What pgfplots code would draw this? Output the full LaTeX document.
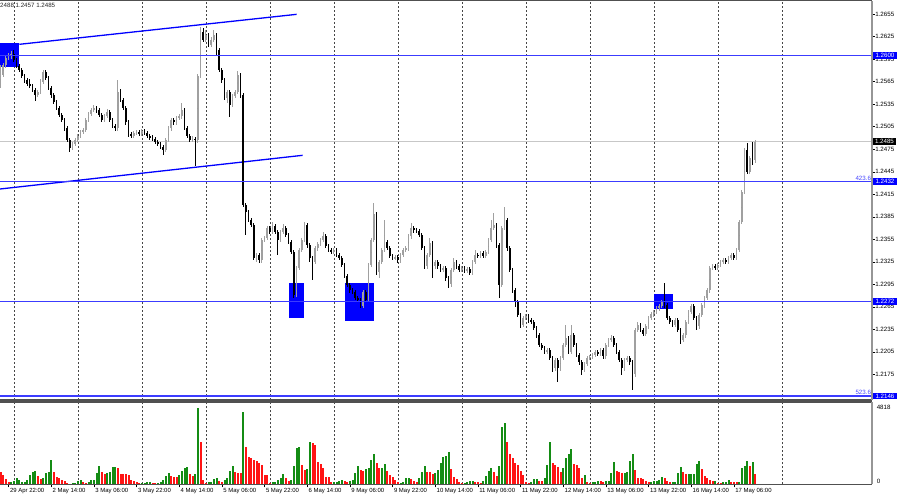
\documentclass[border=0pt]{standalone}
\usepackage{pgfplots}
\pgfplotsset{compat=1.18}
\usepackage{pgfplotstable}
\usepackage{fontspec}
\setmainfont{Liberation Sans}

\definecolor{levelblue}{RGB}{60,60,255}
\definecolor{tagblue}{RGB}{72,72,255}
\definecolor{trendblue}{RGB}{0,0,255}
\definecolor{boxblue}{RGB}{0,0,255}
\definecolor{candleup}{RGB}{160,160,160}
\definecolor{gridgray}{RGB}{70,70,70}
\definecolor{volgreen}{RGB}{20,140,20}
\definecolor{volred}{RGB}{255,20,20}
\definecolor{framegray}{RGB}{80,80,80}
\definecolor{axisgray}{RGB}{150,150,150}

% hourly candles, i = bar number
\pgfplotstableread{
i o h l c
0 1.2561 1.2587 1.2557 1.2574
1 1.2574 1.2590 1.2571 1.2587
2 1.2587 1.2600 1.2584 1.2597
3 1.2597 1.2603 1.2594 1.2599
4 1.2599 1.2606 1.2596 1.2602
5 1.2602 1.2607 1.2591 1.2594
6 1.2594 1.2597 1.2583 1.2586
7 1.2586 1.2589 1.2578 1.2581
8 1.2581 1.2584 1.2570 1.2573
9 1.2573 1.2576 1.2564 1.2567
10 1.2567 1.2570 1.2559 1.2562
11 1.2562 1.2568 1.2556 1.2559
12 1.2559 1.2562 1.2551 1.2554
13 1.2554 1.2557 1.2540 1.2547
14 1.2547 1.2554 1.2544 1.2551
15 1.2551 1.2568 1.2548 1.2565
16 1.2565 1.2581 1.2562 1.2578
17 1.2578 1.2581 1.2567 1.2570
18 1.2570 1.2573 1.2554 1.2557
19 1.2557 1.2560 1.2544 1.2547
20 1.2547 1.2550 1.2535 1.2538
21 1.2538 1.2541 1.2527 1.2530
22 1.2530 1.2533 1.2518 1.2521
23 1.2521 1.2524 1.2511 1.2514
24 1.2514 1.2517 1.2500 1.2503
25 1.2503 1.2506 1.2484 1.2487
26 1.2487 1.2490 1.2471 1.2477
27 1.2477 1.2485 1.2474 1.2482
28 1.2482 1.2490 1.2479 1.2487
29 1.2487 1.2496 1.2484 1.2493
30 1.2493 1.2501 1.2490 1.2498
31 1.2498 1.2504 1.2495 1.2501
32 1.2501 1.2517 1.2498 1.2514
33 1.2514 1.2525 1.2511 1.2522
34 1.2522 1.2530 1.2519 1.2527
35 1.2527 1.2534 1.2524 1.2530
36 1.2530 1.2533 1.2524 1.2527
37 1.2527 1.2530 1.2518 1.2521
38 1.2521 1.2524 1.2511 1.2514
39 1.2514 1.2522 1.2511 1.2519
40 1.2519 1.2528 1.2516 1.2525
41 1.2525 1.2528 1.2511 1.2514
42 1.2514 1.2517 1.2503 1.2506
43 1.2506 1.2509 1.2500 1.2503
44 1.2503 1.2567 1.2500 1.2551
45 1.2551 1.2555 1.2538 1.2541
46 1.2541 1.2544 1.2527 1.2530
47 1.2530 1.2533 1.2508 1.2511
48 1.2511 1.2514 1.2492 1.2495
49 1.2495 1.2498 1.2490 1.2493
50 1.2493 1.2500 1.2490 1.2497
51 1.2497 1.2501 1.2494 1.2498
52 1.2498 1.2501 1.2492 1.2495
53 1.2495 1.2502 1.2492 1.2499
54 1.2499 1.2502 1.2494 1.2497
55 1.2497 1.2500 1.2490 1.2493
56 1.2493 1.2496 1.2488 1.2491
57 1.2491 1.2494 1.2486 1.2489
58 1.2489 1.2492 1.2482 1.2485
59 1.2485 1.2488 1.2479 1.2482
60 1.2482 1.2485 1.2475 1.2478
61 1.2478 1.2481 1.2467 1.2474
62 1.2474 1.2490 1.2471 1.2487
63 1.2487 1.2506 1.2484 1.2503
64 1.2503 1.2517 1.2500 1.2514
65 1.2514 1.2517 1.2508 1.2511
66 1.2511 1.2520 1.2508 1.2517
67 1.2517 1.2522 1.2514 1.2519
68 1.2519 1.2537 1.2516 1.2527
69 1.2527 1.2530 1.2500 1.2503
70 1.2503 1.2506 1.2490 1.2493
71 1.2493 1.2496 1.2484 1.2487
72 1.2487 1.2492 1.2484 1.2489
73 1.2489 1.2492 1.2453 1.2487
74 1.2487 1.2576 1.2484 1.2573
75 1.2573 1.2638 1.2570 1.2631
76 1.2631 1.2637 1.2618 1.2621
77 1.2621 1.2634 1.2618 1.2627
78 1.2627 1.2630 1.2611 1.2614
79 1.2614 1.2624 1.2611 1.2621
80 1.2621 1.2634 1.2618 1.2627
81 1.2627 1.2630 1.2601 1.2607
82 1.2607 1.2610 1.2578 1.2581
83 1.2581 1.2584 1.2564 1.2567
84 1.2567 1.2570 1.2540 1.2543
85 1.2543 1.2554 1.2537 1.2551
86 1.2551 1.2554 1.2518 1.2534
87 1.2534 1.2549 1.2531 1.2546
88 1.2546 1.2554 1.2543 1.2551
89 1.2551 1.2579 1.2548 1.2574
90 1.2574 1.2577 1.2544 1.2547
91 1.2547 1.2550 1.2398 1.2401
92 1.2401 1.2404 1.2361 1.2391
93 1.2391 1.2394 1.2378 1.2381
94 1.2381 1.2384 1.2371 1.2374
95 1.2374 1.2377 1.2327 1.2330
96 1.2330 1.2337 1.2325 1.2334
97 1.2334 1.2337 1.2324 1.2327
98 1.2327 1.2357 1.2324 1.2354
99 1.2354 1.2360 1.2351 1.2357
100 1.2357 1.2373 1.2354 1.2370
101 1.2370 1.2373 1.2362 1.2365
102 1.2365 1.2378 1.2362 1.2373
103 1.2373 1.2376 1.2362 1.2365
104 1.2365 1.2368 1.2334 1.2354
105 1.2354 1.2368 1.2351 1.2365
106 1.2365 1.2375 1.2362 1.2370
107 1.2370 1.2373 1.2358 1.2361
108 1.2361 1.2364 1.2348 1.2351
109 1.2351 1.2354 1.2335 1.2338
110 1.2338 1.2341 1.2277 1.2281
111 1.2281 1.2320 1.2278 1.2317
112 1.2317 1.2344 1.2314 1.2341
113 1.2341 1.2357 1.2338 1.2354
114 1.2354 1.2378 1.2351 1.2374
115 1.2374 1.2377 1.2344 1.2347
116 1.2347 1.2350 1.2325 1.2330
117 1.2330 1.2333 1.2301 1.2325
118 1.2325 1.2346 1.2322 1.2343
119 1.2343 1.2352 1.2340 1.2349
120 1.2349 1.2357 1.2346 1.2354
121 1.2354 1.2365 1.2351 1.2359
122 1.2359 1.2362 1.2343 1.2346
123 1.2346 1.2349 1.2338 1.2341
124 1.2341 1.2344 1.2335 1.2338
125 1.2338 1.2344 1.2335 1.2341
126 1.2341 1.2344 1.2331 1.2334
127 1.2334 1.2337 1.2327 1.2330
128 1.2330 1.2333 1.2318 1.2321
129 1.2321 1.2324 1.2303 1.2306
130 1.2306 1.2309 1.2291 1.2294
131 1.2294 1.2297 1.2284 1.2287
132 1.2287 1.2290 1.2282 1.2285
133 1.2285 1.2288 1.2274 1.2277
134 1.2277 1.2280 1.2271 1.2274
135 1.2274 1.2277 1.2263 1.2266
136 1.2266 1.2288 1.2263 1.2285
137 1.2285 1.2288 1.2271 1.2274
138 1.2274 1.2324 1.2271 1.2321
139 1.2321 1.2357 1.2318 1.2354
140 1.2354 1.2403 1.2351 1.2389
141 1.2389 1.2392 1.2308 1.2311
142 1.2311 1.2328 1.2303 1.2325
143 1.2325 1.2344 1.2322 1.2341
144 1.2341 1.2381 1.2338 1.2351
145 1.2351 1.2354 1.2340 1.2343
146 1.2343 1.2346 1.2330 1.2333
147 1.2333 1.2336 1.2327 1.2330
148 1.2330 1.2334 1.2327 1.2331
149 1.2331 1.2334 1.2324 1.2327
150 1.2327 1.2337 1.2324 1.2334
151 1.2334 1.2344 1.2331 1.2341
152 1.2341 1.2346 1.2338 1.2343
153 1.2343 1.2362 1.2340 1.2359
154 1.2359 1.2377 1.2356 1.2370
155 1.2370 1.2373 1.2364 1.2367
156 1.2367 1.2370 1.2363 1.2366
157 1.2366 1.2369 1.2358 1.2361
158 1.2361 1.2364 1.2340 1.2343
159 1.2343 1.2346 1.2316 1.2319
160 1.2319 1.2337 1.2316 1.2334
161 1.2334 1.2357 1.2331 1.2350
162 1.2350 1.2353 1.2303 1.2319
163 1.2319 1.2328 1.2316 1.2325
164 1.2325 1.2328 1.2316 1.2319
165 1.2319 1.2322 1.2311 1.2314
166 1.2314 1.2320 1.2311 1.2317
167 1.2317 1.2320 1.2300 1.2303
168 1.2303 1.2306 1.2290 1.2295
169 1.2295 1.2317 1.2292 1.2314
170 1.2314 1.2330 1.2311 1.2325
171 1.2325 1.2328 1.2316 1.2319
172 1.2319 1.2322 1.2311 1.2314
173 1.2314 1.2320 1.2311 1.2317
174 1.2317 1.2320 1.2310 1.2313
175 1.2313 1.2318 1.2310 1.2315
176 1.2315 1.2318 1.2307 1.2310
177 1.2310 1.2328 1.2307 1.2325
178 1.2325 1.2341 1.2322 1.2334
179 1.2334 1.2337 1.2330 1.2333
180 1.2333 1.2340 1.2330 1.2337
181 1.2337 1.2340 1.2330 1.2333
182 1.2333 1.2341 1.2330 1.2338
183 1.2338 1.2357 1.2335 1.2354
184 1.2354 1.2381 1.2351 1.2370
185 1.2370 1.2390 1.2367 1.2374
186 1.2374 1.2377 1.2344 1.2347
187 1.2347 1.2350 1.2277 1.2294
188 1.2294 1.2373 1.2291 1.2370
189 1.2370 1.2398 1.2367 1.2381
190 1.2381 1.2384 1.2340 1.2343
191 1.2343 1.2346 1.2311 1.2314
192 1.2314 1.2317 1.2284 1.2287
193 1.2287 1.2290 1.2265 1.2271
194 1.2271 1.2274 1.2251 1.2254
195 1.2254 1.2257 1.2237 1.2241
196 1.2241 1.2253 1.2238 1.2250
197 1.2250 1.2256 1.2247 1.2253
198 1.2253 1.2256 1.2244 1.2247
199 1.2247 1.2250 1.2242 1.2245
200 1.2245 1.2248 1.2234 1.2237
201 1.2237 1.2240 1.2224 1.2227
202 1.2227 1.2230 1.2211 1.2214
203 1.2214 1.2217 1.2207 1.2210
204 1.2210 1.2213 1.2202 1.2205
205 1.2205 1.2210 1.2202 1.2207
206 1.2207 1.2210 1.2194 1.2197
207 1.2197 1.2200 1.2178 1.2183
208 1.2183 1.2197 1.2180 1.2194
209 1.2194 1.2197 1.2165 1.2183
210 1.2183 1.2200 1.2180 1.2197
211 1.2197 1.2217 1.2194 1.2214
212 1.2214 1.2241 1.2211 1.2223
213 1.2223 1.2226 1.2202 1.2205
214 1.2205 1.2241 1.2202 1.2227
215 1.2227 1.2230 1.2211 1.2214
216 1.2214 1.2217 1.2198 1.2201
217 1.2201 1.2204 1.2188 1.2191
218 1.2191 1.2194 1.2174 1.2181
219 1.2181 1.2192 1.2178 1.2189
220 1.2189 1.2200 1.2186 1.2197
221 1.2197 1.2201 1.2194 1.2198
222 1.2198 1.2204 1.2195 1.2201
223 1.2201 1.2208 1.2198 1.2205
224 1.2205 1.2208 1.2199 1.2202
225 1.2202 1.2210 1.2199 1.2207
226 1.2207 1.2210 1.2196 1.2199
227 1.2199 1.2217 1.2196 1.2214
228 1.2214 1.2224 1.2211 1.2221
229 1.2221 1.2227 1.2218 1.2223
230 1.2223 1.2226 1.2211 1.2214
231 1.2214 1.2217 1.2202 1.2205
232 1.2205 1.2208 1.2191 1.2194
233 1.2194 1.2197 1.2174 1.2183
234 1.2183 1.2197 1.2180 1.2194
235 1.2194 1.2200 1.2191 1.2197
236 1.2197 1.2200 1.2188 1.2191
237 1.2191 1.2194 1.2154 1.2175
238 1.2175 1.2237 1.2172 1.2234
239 1.2234 1.2245 1.2231 1.2241
240 1.2241 1.2244 1.2231 1.2234
241 1.2234 1.2237 1.2226 1.2229
242 1.2229 1.2242 1.2226 1.2239
243 1.2239 1.2253 1.2236 1.2250
244 1.2250 1.2258 1.2247 1.2255
245 1.2255 1.2261 1.2252 1.2258
246 1.2258 1.2266 1.2255 1.2263
247 1.2263 1.2269 1.2260 1.2266
248 1.2266 1.2274 1.2263 1.2271
249 1.2271 1.2297 1.2264 1.2267
250 1.2267 1.2270 1.2247 1.2250
251 1.2250 1.2253 1.2242 1.2245
252 1.2245 1.2248 1.2238 1.2241
253 1.2241 1.2250 1.2238 1.2247
254 1.2247 1.2250 1.2231 1.2234
255 1.2234 1.2237 1.2215 1.2221
256 1.2221 1.2230 1.2218 1.2227
257 1.2227 1.2248 1.2224 1.2245
258 1.2245 1.2261 1.2242 1.2258
259 1.2258 1.2269 1.2255 1.2266
260 1.2266 1.2269 1.2247 1.2250
261 1.2250 1.2253 1.2234 1.2239
262 1.2239 1.2257 1.2236 1.2254
263 1.2254 1.2270 1.2251 1.2267
264 1.2267 1.2280 1.2264 1.2277
265 1.2277 1.2290 1.2274 1.2287
266 1.2287 1.2319 1.2284 1.2317
267 1.2317 1.2322 1.2314 1.2319
268 1.2319 1.2322 1.2314 1.2317
269 1.2317 1.2324 1.2314 1.2321
270 1.2321 1.2328 1.2318 1.2325
271 1.2325 1.2330 1.2322 1.2327
272 1.2327 1.2330 1.2322 1.2325
273 1.2325 1.2333 1.2322 1.2330
274 1.2330 1.2337 1.2327 1.2334
275 1.2334 1.2337 1.2327 1.2330
276 1.2330 1.2344 1.2327 1.2341
277 1.2341 1.2381 1.2338 1.2378
278 1.2378 1.2421 1.2375 1.2418
279 1.2418 1.2477 1.2415 1.2474
280 1.2474 1.2483 1.2442 1.2445
281 1.2445 1.2466 1.2442 1.2463
282 1.2463 1.2485 1.2454 1.2461
283 1.2461 1.2488 1.2457 1.2485
}\candles

% tick volume, s = 1 green (up), 0 red (down)
\pgfplotstableread{
i v s
0 756 0
1 588 0
2 336 0
3 126 0
4 126 1
5 210 1
6 420 1
7 273 1
8 168 1
9 168 1
10 273 1
11 588 1
12 798 1
13 840 1
14 546 0
15 336 0
16 420 1
17 693 1
18 798 1
19 1512 1
20 798 0
21 483 0
22 420 0
23 273 0
24 210 0
25 63 0
26 42 0
27 63 1
28 63 1
29 210 1
30 273 1
31 126 0
32 63 0
33 126 1
34 252 1
35 273 1
36 693 1
37 1176 1
38 756 0
39 672 0
40 693 1
41 798 1
42 1092 1
43 1092 1
44 1008 0
45 672 0
46 630 0
47 630 0
48 588 0
49 273 0
50 210 0
51 126 0
52 63 0
53 63 1
54 105 1
55 126 1
56 147 1
57 105 0
58 63 0
59 63 1
60 126 1
61 273 1
62 546 1
63 693 1
64 504 0
65 483 0
66 483 0
67 588 1
68 840 1
69 1050 1
70 1092 1
71 651 0
72 546 0
73 672 1
74 4818 1
75 2646 0
76 273 0
77 63 0
78 126 1
79 126 1
80 336 1
81 378 1
82 210 0
83 126 0
84 273 1
85 420 1
86 840 1
87 1176 1
88 756 0
89 693 0
90 735 0
91 4536 1
92 2352 0
93 1743 0
94 1638 0
95 1512 0
96 1470 0
97 1323 0
98 1218 0
99 588 0
100 588 0
101 63 0
102 126 1
103 126 1
104 273 1
105 420 1
106 630 1
107 378 0
108 210 0
109 252 1
110 1176 1
111 2310 1
112 2330 1
113 1218 0
114 903 0
115 945 1
116 2688 1
117 2583 0
118 2478 0
119 1386 0
120 1302 0
121 1008 0
122 483 0
123 462 0
124 126 0
125 147 1
126 168 1
127 210 1
128 273 1
129 210 0
130 126 0
131 231 1
132 273 1
133 693 1
134 1176 1
135 903 0
136 840 0
137 966 1
138 1008 1
139 1512 1
140 1890 1
141 1323 0
142 1008 0
143 1050 1
144 1260 1
145 840 0
146 588 0
147 483 0
148 273 0
149 126 0
150 84 1
151 126 1
152 378 1
153 400 1
154 336 0
155 210 0
156 126 0
157 378 1
158 756 1
159 1176 1
160 798 0
161 756 0
162 651 0
163 693 1
164 903 1
165 1323 1
166 1743 1
167 1785 1
168 2016 1
169 966 0
170 483 0
171 336 0
172 126 0
173 63 0
174 84 1
175 126 1
176 210 1
177 231 1
178 168 0
179 126 0
180 63 0
181 210 1
182 525 1
183 840 1
184 1008 1
185 798 0
186 546 0
187 1176 1
188 3591 1
189 3885 1
190 2688 0
191 1890 0
192 1638 0
193 1323 0
194 1218 0
195 840 0
196 588 0
197 126 0
198 105 0
199 126 1
200 336 1
201 315 1
202 210 0
203 200 0
204 378 1
205 1218 1
206 2646 1
207 1323 0
208 1218 0
209 1113 0
210 798 0
211 1050 1
212 1638 1
213 1932 1
214 2205 1
215 1260 0
216 1218 0
217 1008 0
218 420 0
219 588 1
220 126 0
221 63 0
222 126 1
223 168 1
224 231 1
225 210 0
226 168 0
227 189 1
228 200 1
229 735 1
230 1386 1
231 840 0
232 756 0
233 693 0
234 714 1
235 756 1
236 1470 1
237 1890 1
238 903 0
239 420 0
240 378 0
241 336 0
242 210 0
243 126 0
244 147 1
245 210 1
246 220 1
247 273 1
248 483 1
249 378 0
250 210 0
251 126 0
252 147 1
253 168 1
254 693 1
255 1092 1
256 756 0
257 630 0
258 650 1
259 660 1
260 670 1
261 1260 1
262 1470 1
263 966 0
264 525 0
265 378 0
266 273 0
267 210 0
268 220 1
269 63 0
270 55 0
271 126 1
272 130 1
273 273 1
274 168 0
275 160 0
276 126 0
277 130 1
278 1008 1
279 1176 1
280 1470 1
281 1176 0
282 1428 1
283 672 0
}\volume

\newcommand{\lab}{\fontsize{6.2}{7}\selectfont}
\pgfplotsset{
  candle/.style={only marks, mark=*, mark size=0pt,
    mark options={draw=none, fill=none},
    error bars/y dir=both, error bars/y explicit, error bars/error mark=none},
  hlevel/.style={draw=levelblue, line width=1.2bp, mark=none},
}

\begin{document}
\begin{tikzpicture}
\path[use as bounding box] (0,0) rectangle (900bp,499bp);

% ---- price panel
\begin{axis}[
  name=main,
  at={(0bp,99bp)}, anchor=south west, scale only axis,
  width=872bp, height=399bp,
  xmin=-0.1875, xmax=326.8, ymin=1.214067, ymax=1.267267,
  axis line style={draw=none},
  xtick={5.17,29.17,53.17,77.17,101.17,125.17,149.17,173.17,197.17,221.17,245.17,269.17,293.17},
  xticklabels={}, xmajorgrids, xtick style={draw=none},
  grid style={gridgray, dash pattern=on 2bp off 2bp, line width=0.6bp},
  ytick={1.2145,1.2175,1.2205,1.2235,1.2265,1.2295,1.2325,1.2355,1.2385,1.2415,1.2445,1.2475,1.2505,1.2535,1.2565,1.2595,1.2625,1.2655},
  yticklabels={1.2145,1.2175,1.2205,1.2235,1.2265,1.2295,1.2325,1.2355,1.2385,1.2415,1.2445,1.2475,1.2505,1.2535,1.2565,1.2595,1.2625,1.2655},
  ytick pos=right, yticklabel pos=right, tick align=outside,
  major tick length=2.5bp,
  ytick style={black, line width=0.5bp},
  yticklabel style={font=\lab, inner sep=0.6bp},
  clip=true,
]
% zones
\addplot[fill=boxblue, draw=none] coordinates {(-0.1875,1.25851) (7.05,1.25851) (7.05,1.26171) (-0.1875,1.26171)} -- cycle;
\addplot[fill=boxblue, draw=none] coordinates {(108.2,1.2250) (113.8,1.2250) (113.8,1.22967) (108.2,1.22967)} -- cycle;
\addplot[fill=boxblue, draw=none] coordinates {(129.2,1.2246) (140.0,1.2246) (140.0,1.22963) (129.2,1.22963)} -- cycle;
\addplot[fill=boxblue, draw=none] coordinates {(245.2,1.22616) (252.0,1.22616) (252.0,1.22816) (245.2,1.22816)} -- cycle;
% current price line
\addplot[draw=black!22, line width=0.8bp] coordinates {(-0.1875,1.2485) (326.8,1.2485)};
% channel
\addplot[draw=trendblue, line width=1.3bp] coordinates {(7.05,1.26149) (111.06,1.26549)};
\addplot[draw=trendblue, line width=1.3bp] coordinates {(-0.1875,1.2422) (113.3,1.24669)};
% candles: wicks then bodies
\addplot[candle, restrict expr to domain={\thisrow{c}-\thisrow{o}}{0:1},
  error bars/error bar style={line width=0.8bp, candleup}]
  table[x=i, y expr={(\thisrow{h}+\thisrow{l})/2}, y error expr={(\thisrow{h}-\thisrow{l})/2}] {\candles};
\addplot[candle, restrict expr to domain={\thisrow{c}-\thisrow{o}}{-1:-0.00001},
  error bars/error bar style={line width=0.8bp, black}]
  table[x=i, y expr={(\thisrow{h}+\thisrow{l})/2}, y error expr={(\thisrow{h}-\thisrow{l})/2}] {\candles};
\addplot[candle, restrict expr to domain={\thisrow{c}-\thisrow{o}}{0:1},
  error bars/error bar style={line width=1.9bp, candleup}]
  table[x=i, y expr={(\thisrow{o}+\thisrow{c})/2}, y error expr={max(abs(\thisrow{c}-\thisrow{o})/2,0.00005)}] {\candles};
\addplot[candle, restrict expr to domain={\thisrow{c}-\thisrow{o}}{-1:-0.00001},
  error bars/error bar style={line width=1.9bp, black}]
  table[x=i, y expr={(\thisrow{o}+\thisrow{c})/2}, y error expr={max(abs(\thisrow{c}-\thisrow{o})/2,0.00005)}] {\candles};
% horizontal levels
\addplot[hlevel] coordinates {(-0.1875,1.2600) (326.8,1.2600)};
\addplot[hlevel] coordinates {(-0.1875,1.2432) (326.8,1.2432)};
\addplot[hlevel] coordinates {(-0.1875,1.2272) (326.8,1.2272)};
\addplot[hlevel] coordinates {(-0.1875,1.2146) (326.8,1.2146)};

\coordinate (r2600) at (axis cs:326.8,1.2600);
\coordinate (r2485) at (axis cs:326.8,1.2485);
\coordinate (r2432) at (axis cs:326.8,1.2432);
\coordinate (r2272) at (axis cs:326.8,1.2272);
\coordinate (r2146) at (axis cs:326.8,1.2146);
\end{axis}

% ---- volume panel
\begin{axis}[
  name=vol,
  at={(0bp,14.7bp)}, anchor=south west, scale only axis,
  width=872bp, height=82.3bp,
  xmin=-0.1875, xmax=326.8, ymin=0, ymax=5185,
  axis line style={draw=none},
  xtick={3,19,35,51,67,83,99,115,131,147,163,179,195,211,227,243,259,275},
  xticklabels={29 Apr 22:00,2 May 14:00,3 May 06:00,3 May 22:00,4 May 14:00,5 May 06:00,5 May 22:00,6 May 14:00,9 May 06:00,9 May 22:00,10 May 14:00,11 May 06:00,11 May 22:00,12 May 14:00,13 May 06:00,13 May 22:00,16 May 14:00,17 May 06:00},
  xtick pos=bottom, tick align=outside, major tick length=3bp,
  xtick style={black, line width=0.5bp},
  xticklabel style={font=\fontsize{6}{7}\selectfont, anchor=north west, inner sep=0.5bp, xshift=0.8bp},
  extra x ticks={5.17,29.17,53.17,77.17,101.17,125.17,149.17,173.17,197.17,221.17,245.17,269.17,293.17},
  extra x tick labels={},
  extra x tick style={xmajorgrids=true, xtick style={draw=none}},
  grid style={gridgray, dash pattern=on 2bp off 2bp, line width=0.6bp},
  ytick={4818}, yticklabels={4818},
  extra y ticks={0}, extra y tick labels={0},
  extra y tick style={yticklabel style={yshift=3bp}},
  ytick pos=right, yticklabel pos=right,
  ytick style={draw=none},
  yticklabel style={font=\lab, inner sep=0.6bp, xshift=1bp},
  clip=true,
]
\addplot[ycomb, draw=volgreen, line width=2bp, restrict expr to domain={\thisrow{s}}{0.5:1.5}] table[x=i, y=v] {\volume};
\addplot[ycomb, draw=volred, line width=2bp, restrict expr to domain={\thisrow{s}}{-0.5:0.5}] table[x=i, y=v] {\volume};
\end{axis}

% frames
\draw[framegray, line width=1bp] (main.north west) -- (main.north east);
\draw[framegray, line width=1.2bp] (main.south west) -- (main.south east);
\draw[framegray, line width=1.2bp] (vol.north west) -- (vol.north east);
\draw[framegray, line width=1bp] (vol.south west) -- (vol.south east);
\draw[axisgray, line width=1.6bp] (main.south east) -- (main.north east);
\draw[axisgray, line width=1.6bp] (vol.south east) -- (vol.north east);

% price tags
\node[fill=boxblue, text=white, font=\lab, inner xsep=2.3bp, inner ysep=1.1bp, anchor=west] at ([xshift=1bp]r2600) {1.2600};
\node[fill=black, text=white, font=\lab, inner xsep=1.8bp, inner ysep=1.1bp, anchor=west] at ([xshift=1bp]r2485) {1.2485};
\node[fill=boxblue, text=white, font=\lab, inner xsep=2.3bp, inner ysep=1.1bp, anchor=west] at ([xshift=1bp]r2432) {1.2432};
\node[fill=boxblue, text=white, font=\lab, inner xsep=2.3bp, inner ysep=1.1bp, anchor=west] at ([xshift=1bp]r2272) {1.2272};
\node[fill=boxblue, text=white, font=\lab, inner xsep=2.3bp, inner ysep=1.1bp, anchor=west] at ([xshift=1bp]r2146) {1.2146};
\node[text=tagblue, font=\lab, inner sep=0.3bp, anchor=south east] at ([xshift=-0.5bp,yshift=0.8bp]r2432) {423.6};
\node[text=tagblue, font=\lab, inner sep=0.3bp, anchor=south east] at ([xshift=-0.5bp,yshift=0.8bp]r2146) {523.6};
\node[text=black!85, font=\lab, inner sep=0bp, anchor=west] at (0bp,494bp) {2488 1.2457 1.2485};
\end{tikzpicture}
\end{document}
